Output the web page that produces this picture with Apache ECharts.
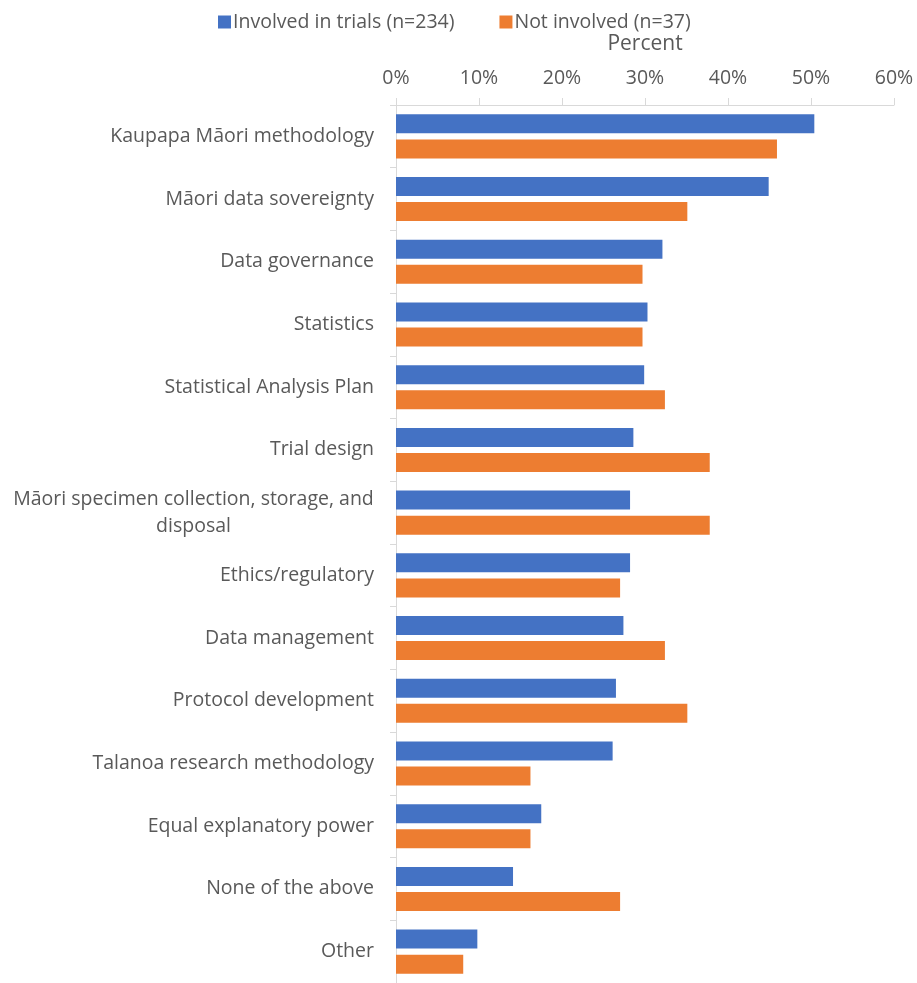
<!DOCTYPE html>
<html><head><meta charset="utf-8">
<script src="https://cdn.jsdelivr.net/npm/echarts@6/dist/echarts.min.js"></script>
<style>html,body{margin:0;padding:0;background:#fff}#c{width:917px;height:983px}</style>
</head><body><div id="c"></div>
<script>
const categories = [
  'Kaupapa Māori methodology',
  'Māori data sovereignty',
  'Data governance',
  'Statistics',
  'Statistical Analysis Plan',
  'Trial design',
  'Māori specimen collection, storage, and\ndisposal',
  'Ethics/regulatory',
  'Data management',
  'Protocol development',
  'Talanoa research methodology',
  'Equal explanatory power',
  'None of the above',
  'Other'
];
const involved = [50.4, 44.9, 32.1, 30.3, 29.9, 28.6, 28.2, 28.2, 27.4, 26.5, 26.1, 17.5, 14.1, 9.8];
const notInvolved = [45.9, 35.1, 29.7, 29.7, 32.4, 37.8, 37.8, 27.0, 32.4, 35.1, 16.2, 16.2, 27.0, 8.1];
const seriesNames = ['Involved in trials (n=234)', 'Not involved (n=37)'];
const axisTitle = 'Percent';

const FONT = 'Open Sans';
const FS = 19.5;
const ctx = document.createElement('canvas').getContext('2d');
ctx.font = FS + 'px "' + FONT + '"';
function widthOf(s) { return Math.ceil(ctx.measureText(s).width); }

const chart = echarts.init(document.getElementById('c'));
function draw() {
  ctx.font = FS + 'px "' + FONT + '"';
  chart.setOption({
    animation: false,
    textStyle: { fontFamily: FONT },
    color: ['#4472C4', '#ED7D31'],
    legend: {
      top: 7, left: 213,
      itemWidth: 13, itemHeight: 13, itemGap: 45,
      icon: 'rect',
      textStyle: { fontSize: FS, color: '#595959', fontFamily: FONT, padding: [0, 0, 0, -3] },
      data: seriesNames
    },
    grid: { left: 396, right: 23, top: 105, bottom: 0 },
    xAxis: {
      type: 'value', position: 'top', min: 0, max: 60, interval: 10,
      name: axisTitle, nameLocation: 'middle', nameGap: 50,
      nameTextStyle: { fontSize: 21, color: '#595959', fontFamily: FONT },
      axisLine: { show: true, lineStyle: { color: '#d9d9d9', width: 1 } },
      axisTick: { show: true, length: 7, lineStyle: { color: '#d9d9d9' } },
      splitLine: { show: false },
      axisLabel: { formatter: '{value}%', fontSize: FS, color: '#595959', margin: 17, fontFamily: FONT }
    },
    yAxis: {
      type: 'category', inverse: true, data: categories,
      axisLine: { show: true, lineStyle: { color: '#d9d9d9', width: 1 } },
      axisTick: { show: true, length: 6, lineStyle: { color: '#d9d9d9' } },
      axisLabel: {
        fontSize: FS, color: '#595959', margin: 22, fontFamily: FONT,
        formatter: function (v) {
          if (v.indexOf('\n') >= 0) {
            const lines = v.split('\n');
            const w = Math.max.apply(null, lines.map(widthOf));
            return lines.map(function (l) { return '{w' + w + '|' + l + '}'; }).join('\n');
          }
          return v;
        },
        rich: (function () {
          const lines = categories.filter(function (c) { return c.indexOf('\n') >= 0; })[0].split('\n');
          const w = Math.max.apply(null, lines.map(widthOf));
          const r = {};
          r['w' + w] = { fontSize: FS, color: '#595959', fontFamily: FONT, width: w, align: 'center', lineHeight: 27 };
          return r;
        })()
      }
    },
    series: [
      { name: seriesNames[0], type: 'bar', data: involved, barWidth: 19, barGap: '32%' },
      { name: seriesNames[1], type: 'bar', data: notInvolved, barWidth: 19, barGap: '32%' }
    ]
  });
}
draw();
</script></body></html>
